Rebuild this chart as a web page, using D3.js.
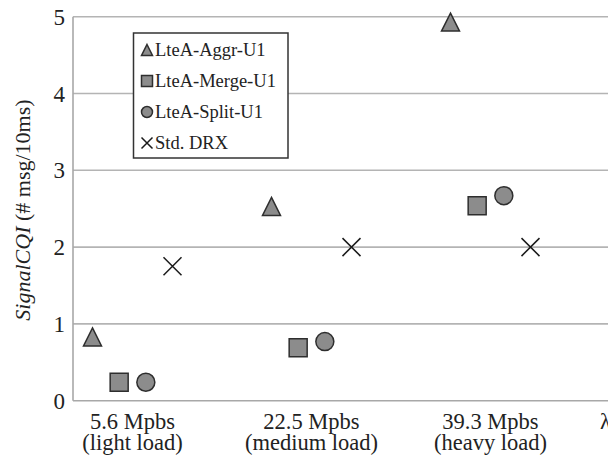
<!DOCTYPE html>
<html>
<head>
<meta charset="utf-8">
<script src="https://cdn.jsdelivr.net/npm/d3@7"></script>
<style>
  body { margin: 0; background: #fff; }
</style>
</head>
<body>
<svg id="chart"></svg>
<script>
  // categories (x axis) and series
  const categories = ['light', 'medium', 'heavy'];
  const categoryLines = [
    ['5.6 Mpbs', '(light load)'],
    ['22.5 Mpbs', '(medium load)'],
    ['39.3 Mpbs', '(heavy load)']
  ];
  const seriesNames = ['LteA-Aggr-U1', 'LteA-Merge-U1', 'LteA-Split-U1', 'Std. DRX'];
  const seriesSymbols = ['triangle', 'square', 'circle', 'cross'];

  // values per series, one per category
  const aggrValues = [0.83, 2.53, 4.93];
  const mergeValues = [0.24, 0.69, 2.54];
  const splitValues = [0.24, 0.77, 2.67];
  const drxValues = [1.75, 2.0, 2.0];
  const seriesValues = [aggrValues, mergeValues, splitValues, drxValues];

  const yTicks = [0, 1, 2, 3, 4, 5];

  const W = 608, H = 456;
  const plotLeft = 73, plotTop = 16.7, plotBottom = 400.7;
  const serif = '"Liberation Serif", "Times New Roman", serif';

  const svg = d3.select('#chart').attr('width', W).attr('height', H)
    .style('font-family', serif);

  const yscale = d3.scaleLinear().domain([0, 5]).range([plotBottom, plotTop]);
  const xscale = d3.scalePoint().domain(categories).range([132.5, 490.5]);
  const offset = d3.scalePoint().domain(seriesNames).range([-40, 40]);

  // gridlines
  svg.append('g').selectAll('line').data(yTicks.filter((d) => d > 0)).join('line')
    .attr('x1', plotLeft).attr('x2', W)
    .attr('y1', (d) => yscale(d)).attr('y2', (d) => yscale(d))
    .attr('stroke', '#b4b4b4').attr('stroke-width', 1.6);

  // axes lines
  svg.append('line').attr('x1', plotLeft).attr('x2', W)
    .attr('y1', yscale(0)).attr('y2', yscale(0))
    .attr('stroke', '#a8a8a8').attr('stroke-width', 1.6);
  svg.append('line').attr('x1', plotLeft).attr('x2', plotLeft)
    .attr('y1', yscale(5)).attr('y2', yscale(0))
    .attr('stroke', '#a8a8a8').attr('stroke-width', 1.6);

  // y tick labels
  svg.append('g').selectAll('text').data(yTicks).join('text')
    .attr('x', 65).attr('y', (d) => yscale(d) + 8)
    .attr('text-anchor', 'end')
    .attr('fill', '#222')
    .style('font-size', '23px')
    .text((d) => d);

  // x category labels
  const xl = svg.append('g').selectAll('text').data(categories).join('text')
    .attr('text-anchor', 'middle')
    .attr('fill', '#222')
    .style('font-size', '22.5px');
  xl.append('tspan').attr('x', (d) => xscale(d)).attr('y', 429)
    .text((d, i) => categoryLines[i][0]);
  xl.append('tspan').attr('x', (d) => xscale(d)).attr('y', 450)
    .text((d, i) => categoryLines[i][1]);

  // cut-off x axis label at the right edge
  svg.append('text').attr('x', 600).attr('y', 429).attr('fill', '#222')
    .style('font-size', '22.5px').text('λ');

  // y title
  const yt = svg.append('text')
    .attr('transform', `translate(30,210) rotate(-90)`)
    .attr('text-anchor', 'middle')
    .attr('fill', '#222')
    .style('font-size', '22px');
  yt.append('tspan').style('font-style', 'italic').text('SignalCQI');
  yt.append('tspan').text(' (# msg/10ms)');

  function symbolPath(kind, size) {
    const h = size / 2;
    if (kind === 'triangle') return `M0,${-h}L${h},${h}L${-h},${h}Z`;
    if (kind === 'square') return `M${-h},${-h}H${h}V${h}H${-h}Z`;
    if (kind === 'circle') return `M${h},0A${h},${h} 0 1,1 ${-h},0A${h},${h} 0 1,1 ${h},0Z`;
    return `M${-h},${-h}L${h},${h}M${h},${-h}L${-h},${h}`;
  }

  function styleMark(sel, kind) {
    if (kind === 'cross') {
      sel.attr('fill', 'none').attr('stroke', '#1a1a1a').attr('stroke-width', 1.5);
    } else {
      sel.attr('fill', '#8c8c8c').attr('stroke', '#2e2e2e').attr('stroke-width', 1.5);
    }
  }

  // markers
  seriesNames.forEach((name, si) => {
    const kind = seriesSymbols[si];
    const sel = svg.append('g').selectAll('path').data(seriesValues[si]).join('path')
      .attr('transform', (d, i) => `translate(${xscale(categories[i]) + offset(name)},${yscale(d)})`)
      .attr('d', symbolPath(kind, 18));
    styleMark(sel, kind);
  });

  // legend
  const lg = svg.append('g');
  lg.append('rect').attr('x', 133.5).attr('y', 33).attr('width', 154.5).attr('height', 125)
    .attr('fill', '#fff').attr('stroke', '#333').attr('stroke-width', 1.5);
  const rowY = d3.scalePoint().domain(seriesNames).range([50, 143]);
  seriesNames.forEach((name, si) => {
    const kind = seriesSymbols[si];
    const p = lg.append('path')
      .attr('transform', `translate(147,${rowY(name)})`)
      .attr('d', symbolPath(kind, 11));
    styleMark(p, kind);
    lg.append('text').attr('x', 155).attr('y', rowY(name) + 6)
      .attr('fill', '#222')
      .style('font-size', '18.5px').text(name);
  });
</script>
</body>
</html>
